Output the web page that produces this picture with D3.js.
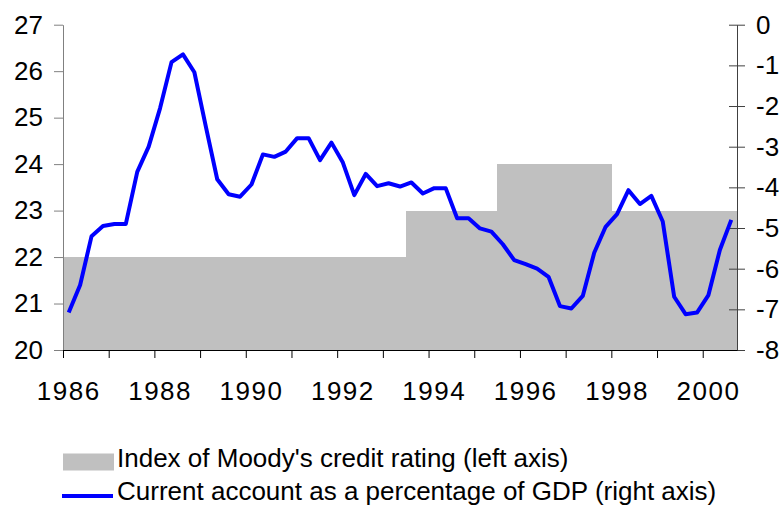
<!DOCTYPE html>
<html>
<head>
<meta charset="utf-8">
<script src="https://cdn.jsdelivr.net/npm/d3@7"></script>
<style>
  body { margin: 0; background: #fff; }
  svg { display: block; font-family: Arial, "Liberation Sans", sans-serif; }
</style>
</head>
<body>
<div id="chart"></div>
<script>
// quarters 1986Q1 .. 2000Q3
const years = [1986, 1987, 1988, 1989, 1990, 1991, 1992, 1993, 1994, 1995, 1996, 1997, 1998, 1999, 2000];
const quarters = years.flatMap((y) => [1, 2, 3, 4].map((q) => `${y}Q${q}`)).slice(0, 59);

// index of Moody's credit rating (left axis), one per quarter
const rating = [
  22, 22, 22, 22, // 1986
  22, 22, 22, 22, // 1987
  22, 22, 22, 22, // 1988
  22, 22, 22, 22, // 1989
  22, 22, 22, 22, // 1990
  22, 22, 22, 22, // 1991
  22, 22, 22, 22, // 1992
  22, 22, 23, 23, // 1993
  23, 23, 23, 23, // 1994
  23, 23, 24, 24, // 1995
  24, 24, 24, 24, // 1996
  24, 24, 24, 24, // 1997
  23, 23, 23, 23, // 1998
  23, 23, 23, 23, // 1999
  23, 23, 23      // 2000
];

// current account as % of GDP (right axis)
const currentAccount = [
  -7.08, -6.40, -5.20, -4.95,
  -4.90, -4.90, -3.62, -3.00,
  -2.05, -0.92, -0.73, -1.17,
  -2.50, -3.80, -4.17, -4.23,
  -3.93, -3.19, -3.25, -3.12,
  -2.79, -2.79, -3.33, -2.90,
  -3.39, -4.19, -3.67, -3.97,
  -3.90, -3.98, -3.88, -4.15,
  -4.02, -4.02, -4.76, -4.76,
  -5.01, -5.09, -5.40, -5.79,
  -5.89, -6.00, -6.20, -6.92,
  -6.98, -6.67, -5.61, -4.97,
  -4.66, -4.07, -4.41, -4.21,
  -4.84, -6.69, -7.12, -7.08,
  -6.65, -5.54, -4.80
];

const leftTicks = [20, 21, 22, 23, 24, 25, 26, 27];
const rightTicks = [-8, -7, -6, -5, -4, -3, -2, -1, 0];
const legendLabels = [
  "Index of Moody's credit rating (left axis)",
  "Current account as a percentage of GDP (right axis)"
];

const data = quarters.map((q, i) => ({ q: q, rating: rating[i], ca: currentAccount[i] }));

const w = 783, h = 506;
const m = { top: 24.7, right: 46, bottom: 156, left: 63 };
const fontSize = 26;

const svg = d3.select("#chart").append("svg")
  .attr("width", w).attr("height", h)
  .attr("viewBox", [0, 0, w, h]);

const x = d3.scaleBand()
  .domain(quarters)
  .range([m.left, w - m.right])
  .padding(0);

// linear version of x, used for tick marks at category boundaries
const xi = d3.scaleLinear().domain([0, quarters.length]).range(x.range());

const yL = d3.scaleLinear().domain([20, 27]).range([h - m.bottom, m.top]);
const yR = d3.scaleLinear().domain([-8, 0]).range([h - m.bottom, m.top]);

// grey rating bars
svg.append("g")
  .attr("shape-rendering", "crispEdges")
  .selectAll("rect")
  .data(data)
  .join("rect")
  .attr("x", (d) => x(d.q))
  .attr("width", x.bandwidth() + 0.5)
  .attr("y", (d) => yL(d.rating))
  .attr("height", (d) => yL(20) - yL(d.rating))
  .attr("fill", "#c0c0c0");

// left axis
const gL = svg.append("g")
  .attr("transform", `translate(${m.left},0)`)
  .call(d3.axisLeft(yL).tickValues(leftTicks).tickSize(9).tickSizeOuter(0).tickPadding(11).tickFormat(d3.format("d")));
gL.select(".domain").attr("stroke", "#808080");
gL.selectAll(".tick line").attr("stroke", "#808080");
gL.selectAll("text").attr("font-size", fontSize).attr("fill", "#000").attr("font-family", null);

// right axis, ticks cross the line
const gR = svg.append("g")
  .attr("transform", `translate(${w - m.right},0)`)
  .call(d3.axisRight(yR).tickValues(rightTicks).tickSize(8).tickSizeOuter(0).tickPadding(11).tickFormat(d3.format("d")));
gR.select(".domain").attr("stroke", "#404040");
gR.selectAll(".tick line").attr("x1", -8).attr("stroke", "#404040");
gR.selectAll("text").attr("font-size", fontSize).attr("fill", "#000").attr("font-family", null)
  .text((d) => String(d).replace("\u2212", "-"));

// bottom axis: ticks every 4 quarters
const gX = svg.append("g")
  .attr("transform", `translate(0,${h - m.bottom})`)
  .call(d3.axisBottom(xi).tickValues(d3.range(0, quarters.length, 4)).tickSize(8).tickSizeOuter(0).tickFormat(""));
gX.select(".domain").attr("stroke", "#000");
gX.selectAll(".tick line").attr("stroke", "#000");

// year labels, centred on Q1 of even years
svg.append("g")
  .selectAll("text")
  .data(years.filter((y) => y % 2 === 0))
  .join("text")
  .attr("x", (d) => x(`${d}Q1`) + x.bandwidth() / 2)
  .attr("y", h - m.bottom + 50)
  .attr("text-anchor", "middle")
  .attr("font-size", fontSize)
  .attr("letter-spacing", 1.5)
  .text((d) => d);

// current account line
const line = d3.line()
  .x((d) => x(d.q) + x.bandwidth() / 2)
  .y((d) => yR(d.ca));

svg.append("path")
  .datum(data)
  .attr("d", line)
  .attr("fill", "none")
  .attr("stroke", "#0000ff")
  .attr("stroke-width", 4)
  .attr("stroke-linejoin", "round");

// legend
const lg = svg.append("g");
lg.append("rect")
  .attr("x", 63).attr("y", 453.5)
  .attr("width", 51).attr("height", 17)
  .attr("fill", "#c0c0c0");
lg.append("line")
  .attr("x1", 62).attr("x2", 113)
  .attr("y1", 496).attr("y2", 496)
  .attr("stroke", "#0000ff")
  .attr("stroke-width", 4);
lg.selectAll("text")
  .data(legendLabels)
  .join("text")
  .attr("x", 117)
  .attr("y", (d, i) => 467 + i * 33)
  .attr("font-size", fontSize)
  .text((d) => d);
</script>
</body>
</html>
